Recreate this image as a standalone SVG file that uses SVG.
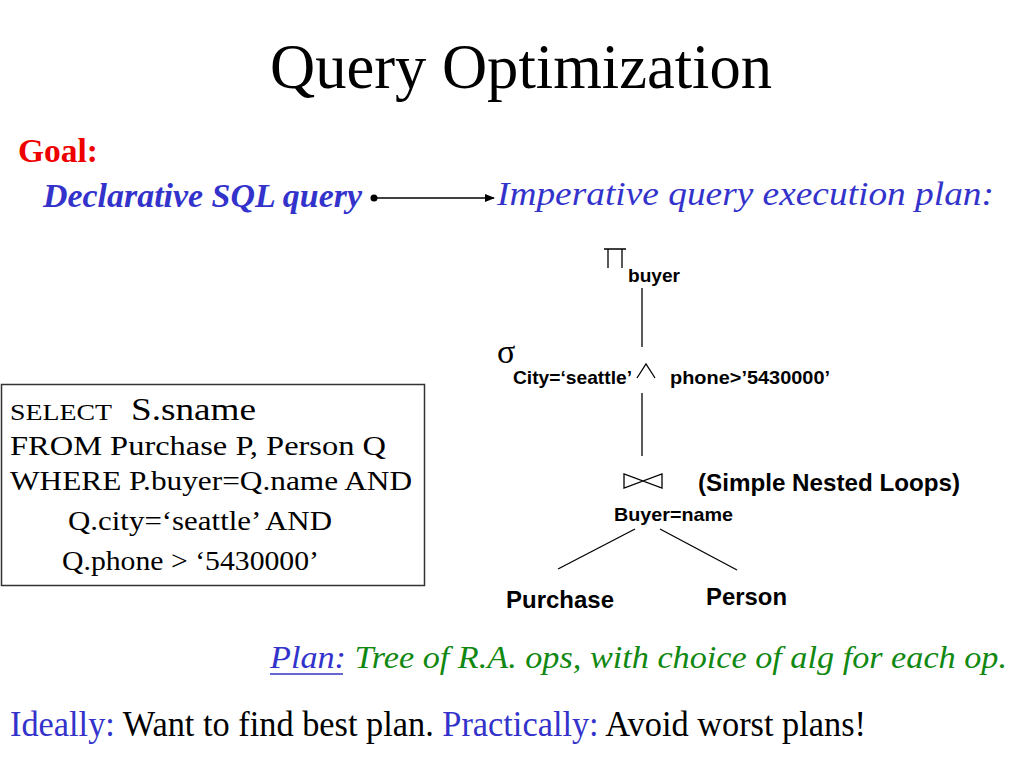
<svg xmlns="http://www.w3.org/2000/svg" width="1024" height="768" viewBox="0 0 1024 768">
<defs>
<style>
.serif{font-family:'Liberation Serif','Tinos','Times New Roman',serif}
.sans{font-family:'Liberation Sans','Arimo',Arial,sans-serif;font-weight:bold;fill:#000}
.blue{fill:#3333CC}
.line{stroke:#000;stroke-width:1.3;fill:none}
</style>
<marker id="arr" markerWidth="10" markerHeight="8" refX="9" refY="4" orient="auto" markerUnits="userSpaceOnUse">
<path d="M0,0 L10,4 L0,8 Z" fill="#000"/>
</marker>
</defs>
<rect width="1024" height="768" fill="#fff"/>
<text class="serif" x="270" y="88" font-size="63" textLength="502" lengthAdjust="spacingAndGlyphs">Query Optimization</text>
<g id="goal">
<text class="serif" x="18" y="162" font-size="33" font-weight="bold" fill="#EE0000" textLength="80" lengthAdjust="spacingAndGlyphs">Goal:</text>
</g>
<g id="declarative">
<text class="serif blue" x="43" y="207" font-size="33" font-weight="bold" font-style="italic" textLength="319" lengthAdjust="spacingAndGlyphs">Declarative SQL query</text>
</g>
<g id="imperative">
<text class="serif blue" x="497" y="205" font-size="34" font-style="italic" textLength="497" lengthAdjust="spacingAndGlyphs">Imperative query execution plan:</text>
</g>
<g id="connectors">
<circle cx="374" cy="198" r="3.5" fill="#000"/>
<line class="line" x1="374" y1="198" x2="494" y2="198" marker-end="url(#arr)"/>
<line class="line" x1="642" y1="288" x2="642" y2="347"/>
<line class="line" x1="642" y1="393" x2="642" y2="456"/>
<line class="line" x1="635" y1="529" x2="558" y2="569"/>
<line class="line" x1="660" y1="529" x2="737" y2="570"/>
</g>
<g id="project">
<path class="line" d="M604,249 H626 M608,249 V268 M622,249 V268" stroke-width="1.2"/>
<text class="sans" x="628" y="282" font-size="19" textLength="52" lengthAdjust="spacingAndGlyphs">buyer</text>
</g>
<g id="select">
<text class="serif" x="497" y="363" font-size="34">σ</text>
<text class="sans" x="513" y="384" font-size="19" textLength="119" lengthAdjust="spacingAndGlyphs">City=‘seattle’</text>
<path class="line" d="M637,378 L646,364 L655,378" stroke-width="1.1"/>
<text class="sans" x="670" y="384" font-size="19" textLength="160" lengthAdjust="spacingAndGlyphs">phone>’5430000’</text>
</g>
<g id="join">
<path class="line" d="M624,474 V488 L662,474 V488 Z" stroke-width="1.2"/>
<text class="sans" x="698" y="491" font-size="24" textLength="262" lengthAdjust="spacingAndGlyphs">(Simple Nested Loops)</text>
<text class="sans" x="614" y="521" font-size="19" textLength="119" lengthAdjust="spacingAndGlyphs">Buyer=name</text>
</g>
<g id="purchase">
<text class="sans" x="506" y="608" font-size="24" textLength="108" lengthAdjust="spacingAndGlyphs">Purchase</text>
</g>
<g id="person">
<text class="sans" x="706" y="605" font-size="24" textLength="81" lengthAdjust="spacingAndGlyphs">Person</text>
</g>
<g id="sql">
<rect x="1.5" y="384.5" width="423" height="201" fill="#fff" stroke="#333" stroke-width="1.5"/>
<text class="serif" x="10" y="420" font-size="24" textLength="102" lengthAdjust="spacingAndGlyphs">SELECT</text>
<text class="serif" x="131" y="420" font-size="31" textLength="125" lengthAdjust="spacingAndGlyphs">S.sname</text>
<text class="serif" x="10" y="455" font-size="27" textLength="376" lengthAdjust="spacingAndGlyphs">FROM Purchase P, Person Q</text>
<text class="serif" x="10" y="490" font-size="27" textLength="402" lengthAdjust="spacingAndGlyphs">WHERE P.buyer=Q.name AND</text>
<text class="serif" x="68" y="530" font-size="27" textLength="264" lengthAdjust="spacingAndGlyphs">Q.city=‘seattle’ AND</text>
<text class="serif" x="62" y="570" font-size="27" textLength="257" lengthAdjust="spacingAndGlyphs">Q.phone &gt; ‘5430000’</text>
</g>
<g id="plan">
<text class="serif" x="270" y="668" font-size="32" font-style="italic" textLength="737" lengthAdjust="spacingAndGlyphs"><tspan class="blue">Plan:</tspan><tspan fill="#118811">  Tree of R.A. ops, with choice of alg for each op.</tspan></text>
<line x1="270" y1="674" x2="343" y2="674" stroke="#3333CC" stroke-width="1.4"/>
</g>
<g id="ideally">
<text class="serif" x="10" y="736" font-size="36" textLength="856" lengthAdjust="spacingAndGlyphs"><tspan class="blue">Ideally:</tspan> Want to find best plan.  <tspan class="blue">Practically:</tspan> Avoid worst plans!</text>
</g>
</svg>
